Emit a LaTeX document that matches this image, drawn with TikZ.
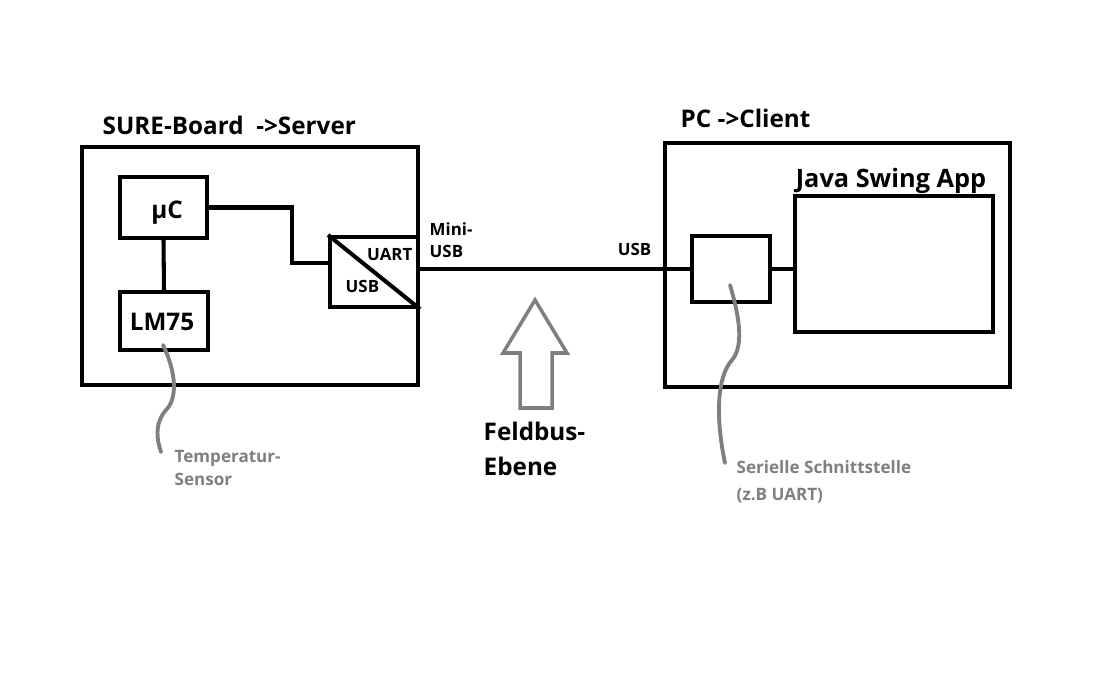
\documentclass[tikz,border=0pt]{standalone}
\usepackage{fontspec}
\setmainfont{Open Sans}
\usepackage{tikz}
\usetikzlibrary{calc}
\definecolor{wiregray}{RGB}{127,127,127}

\begin{document}
\begin{tikzpicture}[
    x=0.01cm, y=-0.01cm,
    block/.style={draw, line width=1.15pt, inner sep=0pt},
    wire/.style={line width=1.15pt},
    bigtext/.style={font=\fontsize{6.9pt}{8pt}\selectfont\bfseries, inner sep=0pt},
    smalltext/.style={font=\fontsize{4.8pt}{6pt}\selectfont\bfseries, inner sep=0pt},
    graytext/.style={font=\fontsize{4.85pt}{6pt}\selectfont\bfseries, text=wiregray, inner sep=0pt},
    graywire/.style={line width=1.1pt, wiregray, line cap=round},
]
    \useasboundingbox (0,0) rectangle (1095,673);

    % SURE-Board (server side)
    \node[block, minimum width=0.01cm*336, minimum height=0.01cm*238] (board) at (250,266) {};
    \node[bigtext, anchor=base west] (boardtitle) at (102,135) {SURE-Board\ \ ->Server};
    \node[block, minimum width=0.01cm*87, minimum height=0.01cm*61] (uc) at (163.5,207.5) {};
    \node[bigtext, anchor=base] at (167,218) {µC};
    \node[block, minimum width=0.01cm*88, minimum height=0.01cm*58] (lm) at (164,321) {};
    \node[bigtext, anchor=base] at (162,330) {LM75};
    \node[block, minimum width=0.01cm*88, minimum height=0.01cm*70] (conv) at (374,272) {};
    \node[smalltext, anchor=base east] at (413,260) {UART};
    \node[smalltext, anchor=base west] at (345,292) {USB};
    \draw[wire] (conv.north west) -- (conv.south east);

    % PC (client side)
    \node[block, minimum width=0.01cm*345, minimum height=0.01cm*244] (pc) at (837.5,265) {};
    \node[bigtext, anchor=base west] (pctitle) at (680,127) {PC ->Client};
    \node[block, minimum width=0.01cm*78, minimum height=0.01cm*66] (serial) at (731,269) {};
    \node[block, minimum width=0.01cm*198, minimum height=0.01cm*136] (app) at (894,264) {};
    \node[bigtext, anchor=base, font=\fontsize{7.2pt}{8pt}\selectfont\bfseries] at (891,187) {Java Swing App};

    % Wires
    \coordinate (convin) at (conv.west |- 0,263);
    \draw[wire] (uc.east) -- ++(83,0) |- (convin);
    \draw[wire] (uc.south) -- (lm.north);
    \draw[wire] (serial.west -| board.east) -- (serial.west);
    \draw[wire] (serial.east) -- (serial.east -| app.west);

    % Bus labels
    \node[smalltext, anchor=base west] at (429,235) {Mini-};
    \node[smalltext, anchor=base west] at (429,257) {USB};
    \node[smalltext, anchor=base east] at (652,255) {USB};

    % Feldbus arrow
    \draw[line width=1pt, wiregray] (535,300) -- (567,353) -- (552,353) -- (552,408)
        -- (520,408) -- (520,353) -- (503,353) -- cycle;
    \node[bigtext, anchor=base west] (feld) at (483,440) {Feldbus-};
    \node[bigtext, anchor=base west] at (483,475) {Ebene};

    % Gray annotation curves
    \node[graytext, anchor=base west] (templabel) at (174,462) {Temperatur-};
    \node[graytext, anchor=base west] at (174,485) {Sensor};
    \coordinate (tempend) at (161,452);
    \draw[graywire] (163,345) .. controls (176,372) and (178,398) .. (166,410)
        .. controls (154,424) and (157,440) .. (tempend);
    \node[graytext, anchor=base west] (serlabel) at (736,473) {Serielle Schnittstelle};
    \node[graytext, anchor=base west] at (736,500) {(z.B UART)};
    \coordinate (serend) at (725,463);
    \draw[graywire] (730,285) .. controls (738,312) and (745,345) .. (732,360)
        .. controls (716,378) and (716,420) .. (serend);
\end{tikzpicture}
\end{document}
